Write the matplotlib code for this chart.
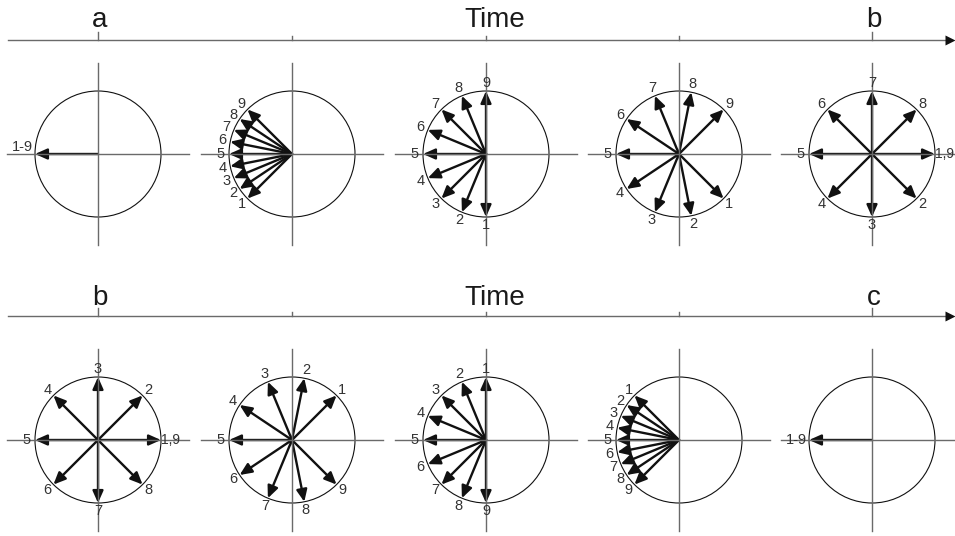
import matplotlib
matplotlib.use("Agg")
import matplotlib.pyplot as plt
from matplotlib.patches import Circle, FancyArrowPatch
import numpy as np

plt.rcParams['font.family'] = ['Liberation Sans', 'DejaVu Sans']

# time axis labels under each row (one per diagram)
row1_marks = ["a", "", "Time", "", "b"]
row2_marks = ["b", "", "Time", "", "c"]

# phasor angles (degrees, counter-clockwise from +x) for vectors 1..9
row1_angles = [
    [180, 180, 180, 180, 180, 180, 180, 180, 180],
    [225, 213.75, 202.5, 191.25, 180, 168.75, 157.5, 146.25, 135],
    [270, 247.5, 225, 202.5, 180, 157.5, 135, 112.5, 90],
    [315, 281.25, 247.5, 213.75, 180, 146.25, 112.5, 78.75, 45],
    [360, 315, 270, 225, 180, 135, 90, 45, 0],
]
row2_angles = [
    [0, 45, 90, 135, 180, 225, 270, 315, 360],
    [45, 78.75, 112.5, 146.25, 180, 213.75, 247.5, 281.25, 315],
    [90, 112.5, 135, 157.5, 180, 202.5, 225, 247.5, 270],
    [135, 146.25, 157.5, 168.75, 180, 191.25, 202.5, 213.75, 225],
    [180, 180, 180, 180, 180, 180, 180, 180, 180],
]
vector_names = ["1", "2", "3", "4", "5", "6", "7", "8", "9"]

centers_x = [98, 292, 486, 679, 872]
R = 63
AXIS_GRAY = '#6a6a6a'
INK = '#111111'

fig = plt.figure(figsize=(9.55, 5.36), dpi=100)
ax = fig.add_axes([0, 0, 1, 1])
ax.set_xlim(0, 955)
ax.set_ylim(536, 0)
ax.axis('off')


def draw_row(marks, angles_list, axis_y, cy, label_y, merged_dy):
    # time axis
    ax.plot([8, 948], [axis_y, axis_y], color=AXIS_GRAY, lw=1.0)
    ax.plot([950], [axis_y], marker='>', color=INK, ms=7, mec='none')
    for cx, m in zip(centers_x, marks):
        short = m == "" or m == "Time"
        tick = 4 if short else 8
        ax.plot([cx, cx], [axis_y - tick, axis_y], color=AXIS_GRAY, lw=1.0)
        if m:
            dx = 9 if m == "Time" else 2
            ax.text(cx + dx, label_y, m, ha='center', va='baseline', fontsize=20,
                    color='#1a1a1a')

    for cx, angs in zip(centers_x, angles_list):
        # cross-hairs and circle
        ax.plot([cx - 91, cx + 91], [cy, cy], color=AXIS_GRAY, lw=1.0)
        ax.plot([cx, cx], [cy - 91, cy + 91], color=AXIS_GRAY, lw=1.0)
        ax.add_patch(Circle((cx, cy), R, fill=False, ec=INK, lw=0.8))

        # group vectors pointing the same way
        groups = {}
        for name, a in zip(vector_names, angs):
            groups.setdefault(a % 360, []).append(name)

        for a, names in groups.items():
            t = np.deg2rad(a)
            tip = (cx + R * np.cos(t), cy - R * np.sin(t))
            ax.add_patch(FancyArrowPatch((cx, cy), tip,
                                         arrowstyle='-|>,head_length=0.45,head_width=0.2',
                                         mutation_scale=16, lw=1.7, color=INK,
                                         shrinkA=0, shrinkB=0))
            if len(names) == 9:
                ax.text(cx - 65, cy - merged_dy, "1-9", ha='right', va='center',
                        fontsize=10.5, color='#333333')
            elif len(names) == 2:
                ax.text(cx + 63, cy, ",".join(names), ha='left', va='center',
                        fontsize=10, color='#333333')
            else:
                ax.text(cx + 71 * np.cos(t), cy - 71 * np.sin(t), names[0],
                        ha='center', va='center', fontsize=10.5, color='#333333')


draw_row(row1_marks, row1_angles, axis_y=40, cy=154, label_y=27, merged_dy=7)
draw_row(row2_marks, row2_angles, axis_y=316, cy=440, label_y=305, merged_dy=0)

fig.savefig("out.png", dpi=100)
